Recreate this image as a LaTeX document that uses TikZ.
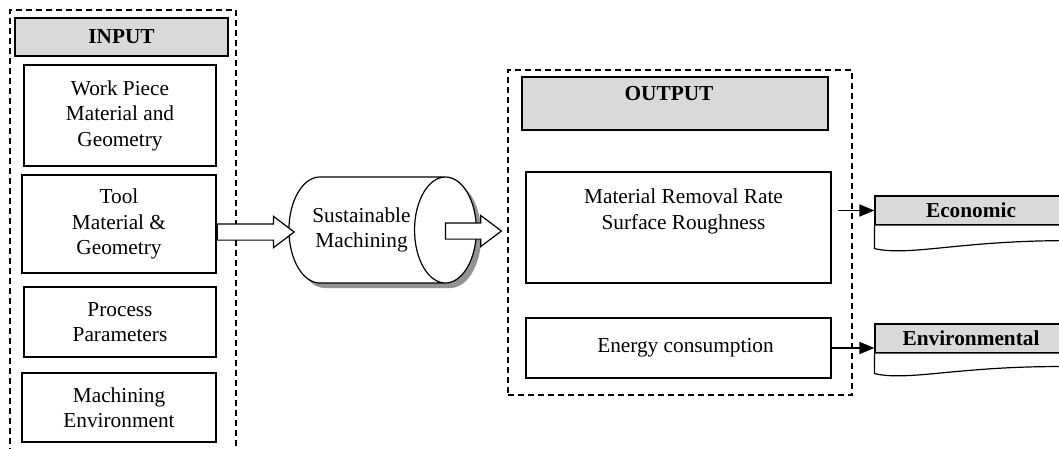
\documentclass[tikz,border=0pt]{standalone}
\usepackage{fontspec}
\setmainfont{Liberation Serif}
\usetikzlibrary{shapes,shapes.geometric,shapes.arrows,arrows.meta,positioning,calc,shadows}

\begin{document}
\begin{tikzpicture}[
    x=1pt, y=-1pt,
    font=\fontsize{21.3}{25.5}\selectfont,
    frame/.style={rectangle, draw=black, line width=1.2pt, dash pattern=on 6pt off 4pt},
    header/.style={rectangle, draw=black, fill=gray!30, line width=1.2pt, font=\fontsize{21.3}{25.5}\selectfont\bfseries},
    item/.style={rectangle, draw=black, fill=white, line width=1.2pt, align=center, inner sep=0pt},
    blockarrow/.style={single arrow, draw=black, fill=white, line width=1.2pt, inner sep=7.5pt, single arrow head extend=7.5pt, single arrow tip angle=74, minimum height=#1},
    arrow/.style={-{Triangle[length=15pt, width=12pt]}, line width=1.6pt},
    doc/.style={draw=black, fill=white, line width=1.2pt}
]
\useasboundingbox (0,0) rectangle (1059,448);
\clip (0,0) rectangle (1059,448);

% Frames
\node[frame, minimum width=226pt, minimum height=450pt] (inframe) at (123,235) {};
\node[frame, minimum width=344pt, minimum height=325pt] (outframe) at (680,232.5) {};

% Inputs
\node[header, minimum width=213pt, minimum height=38pt] (inhead) at (121.5,37) {INPUT};
\node[item, minimum width=192pt, minimum height=101pt] (workpiece) at (120,115.5) {Work Piece\\Material and\\Geometry};
\node[item, minimum width=194pt, minimum height=98pt] (tool) at (119,224) {Tool\\Material \&\\Geometry};
\node[item, minimum width=192pt, minimum height=70pt] (process) at (120,322) {Process\\Parameters};
\node[item, minimum width=194pt, minimum height=69pt] (environ) at (119,407.5) {Machining\\Environment};

% Process
\node[cylinder, draw=black, line width=1.2pt, fill=white, aspect=1.2, minimum width=106pt, minimum height=177pt, align=center,
      drop shadow={shadow xshift=5pt, shadow yshift=-5pt, fill=gray!85, opacity=1}] (machining) at (361.5,230) {Sustainable\\Machining};

\node[blockarrow=77pt, anchor=tail] (arrin) at (tool.east |- 0,232) {};
\node[blockarrow=56pt, anchor=tip] (arrout) at ([xshift=-5pt]outframe.west |- 0,231) {};

% Outputs
\node[header, minimum width=306pt, minimum height=53pt,
      label={[anchor=north, xshift=-6pt, yshift=-6pt, font=\fontsize{21.3}{25.5}\selectfont\bfseries]north:OUTPUT}] (outhead) at (675,103.5) {};
\node[item, minimum width=305pt, minimum height=111pt,
      label={[anchor=north, xshift=5pt, yshift=-14pt, align=center]north:Material Removal Rate\\Surface Roughness}] (mrr) at (678.5,227.5) {};
\node[item, minimum width=305pt, minimum height=60pt] (energy) at (678.5,348) {\hspace{14pt}Energy consumption};

% Pillars
\node[header, minimum width=192pt, minimum height=29pt] (econ) at (971,210.5) {Economic};
\node[header, minimum width=192pt, minimum height=29pt] (envir) at (971,338.5) {Environmental};

\draw[doc] (econ.south west) -- ($(econ.south west)+(0,23)$)
    .. controls ($(econ.south west)+(35,31)$) and ($(econ.south west)+(85,15)$) .. ($(econ.south east)+(0,15)$) -- (econ.south east);
\draw[doc] (envir.south west) -- ($(envir.south west)+(0,20)$)
    .. controls ($(envir.south west)+(35,28)$) and ($(envir.south west)+(85,12)$) .. ($(envir.south east)+(0,13)$) -- (envir.south east);

% Connections
\draw[arrow] ([xshift=6pt]mrr.east |- econ.west) -- (econ.west);
\draw[arrow] (energy.east) -- (energy.east -| envir.west);

\end{tikzpicture}
\end{document}
